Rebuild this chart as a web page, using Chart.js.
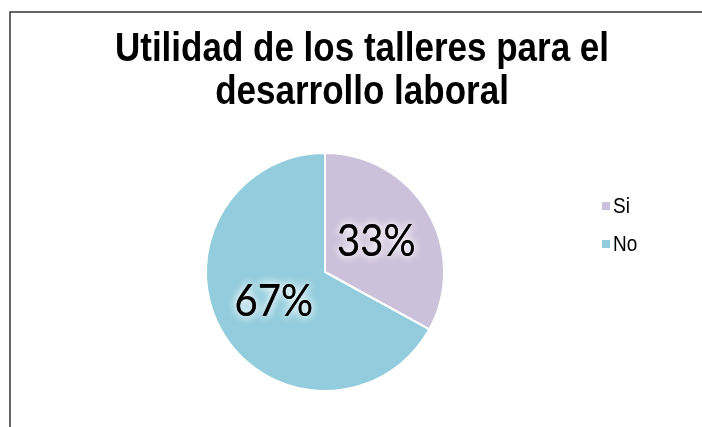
<!DOCTYPE html>
<html>
<head>
<meta charset="utf-8">
<script src="https://cdn.jsdelivr.net/npm/chart.js@4.4.0/dist/chart.umd.min.js"></script>
<style>
  html, body { margin: 0; padding: 0; background: #fff; }
  #wrap { width: 702px; height: 427px; }
</style>
</head>
<body>
<div id="wrap"><canvas id="pie_chart"></canvas></div>
<script>
const titleLines = ["Utilidad de los talleres para el", "desarrollo laboral"];
const categories = ["Si", "No"];
const values = [33, 67];
const sliceColors = ["#CCC1DA", "#93CDDD"];

(function () {
  // text drawn a bit taller than wide, like the original picture
  function tallText(ctx, txt, x, y, sy) {
    ctx.save();
    ctx.translate(x, y);
    ctx.scale(1, sy);
    ctx.fillText(txt, 0, 0);
    ctx.restore();
  }

  // frame, title, legend and percent labels
  const decor = {
    id: "decor",
    beforeDraw(chart) {
      const ctx = chart.ctx;
      ctx.save();
      ctx.strokeStyle = "#333";
      ctx.lineWidth = 1.5;
      ctx.strokeRect(10, 12, 720, 440);

      ctx.fillStyle = "#000";
      ctx.textAlign = "center";
      ctx.textBaseline = "alphabetic";
      ctx.font = "bold 35px 'Liberation Sans', Arial, sans-serif";
      tallText(ctx, titleLines[0], 362, 61, 1.17);
      tallText(ctx, titleLines[1], 362, 104, 1.17);

      ctx.textAlign = "left";
      ctx.textBaseline = "alphabetic";
      ctx.font = "19px 'Liberation Sans', Arial, sans-serif";
      chart.data.labels.forEach((lab, i) => {
        const y = 206 + i * 38;
        ctx.fillStyle = sliceColors[i];
        ctx.fillRect(602, y - 4, 8, 8);
        ctx.fillStyle = "#000";
        tallText(ctx, lab, 613, y + 7, 1.2);
      });
      ctx.restore();
    },
    afterDatasetsDraw(chart) {
      const ctx = chart.ctx;
      const meta = chart.getDatasetMeta(0);
      const data = chart.data.datasets[0].data;
      const total = data.reduce((a, b) => a + b, 0);
      ctx.save();
      ctx.font = "40px Lato, 'Open Sans', sans-serif";
      ctx.textAlign = "center";
      ctx.textBaseline = "middle";
      meta.data.forEach((arc, i) => {
        const p = arc.tooltipPosition();
        const txt = Math.round((data[i] / total) * 100) + "%";
        ctx.shadowColor = "rgba(255,255,255,0.95)";
        ctx.shadowBlur = 8;
        ctx.fillStyle = "#000";
        tallText(ctx, txt, p.x, p.y, 1.1);
        tallText(ctx, txt, p.x, p.y, 1.1);
      });
      ctx.restore();
    },
  };

  const ctx = document.getElementById("pie_chart").getContext("2d");
  const pieChart = new Chart(ctx, {
    type: "pie",
    data: {
      labels: categories,
      datasets: [
        {
          data: values,
          backgroundColor: sliceColors,
          borderColor: "#fff",
          borderWidth: 2,
        },
      ],
    },
    options: {
      responsive: true,
      maintainAspectRatio: false,
      animation: false,
      layout: {
        padding: { left: 204, right: 256, top: 152, bottom: 35 },
      },
      plugins: {
        legend: { display: false },
        title: { display: false },
        tooltip: { enabled: false },
      },
    },
    plugins: [decor],
  });
})();
</script>
</body>
</html>
